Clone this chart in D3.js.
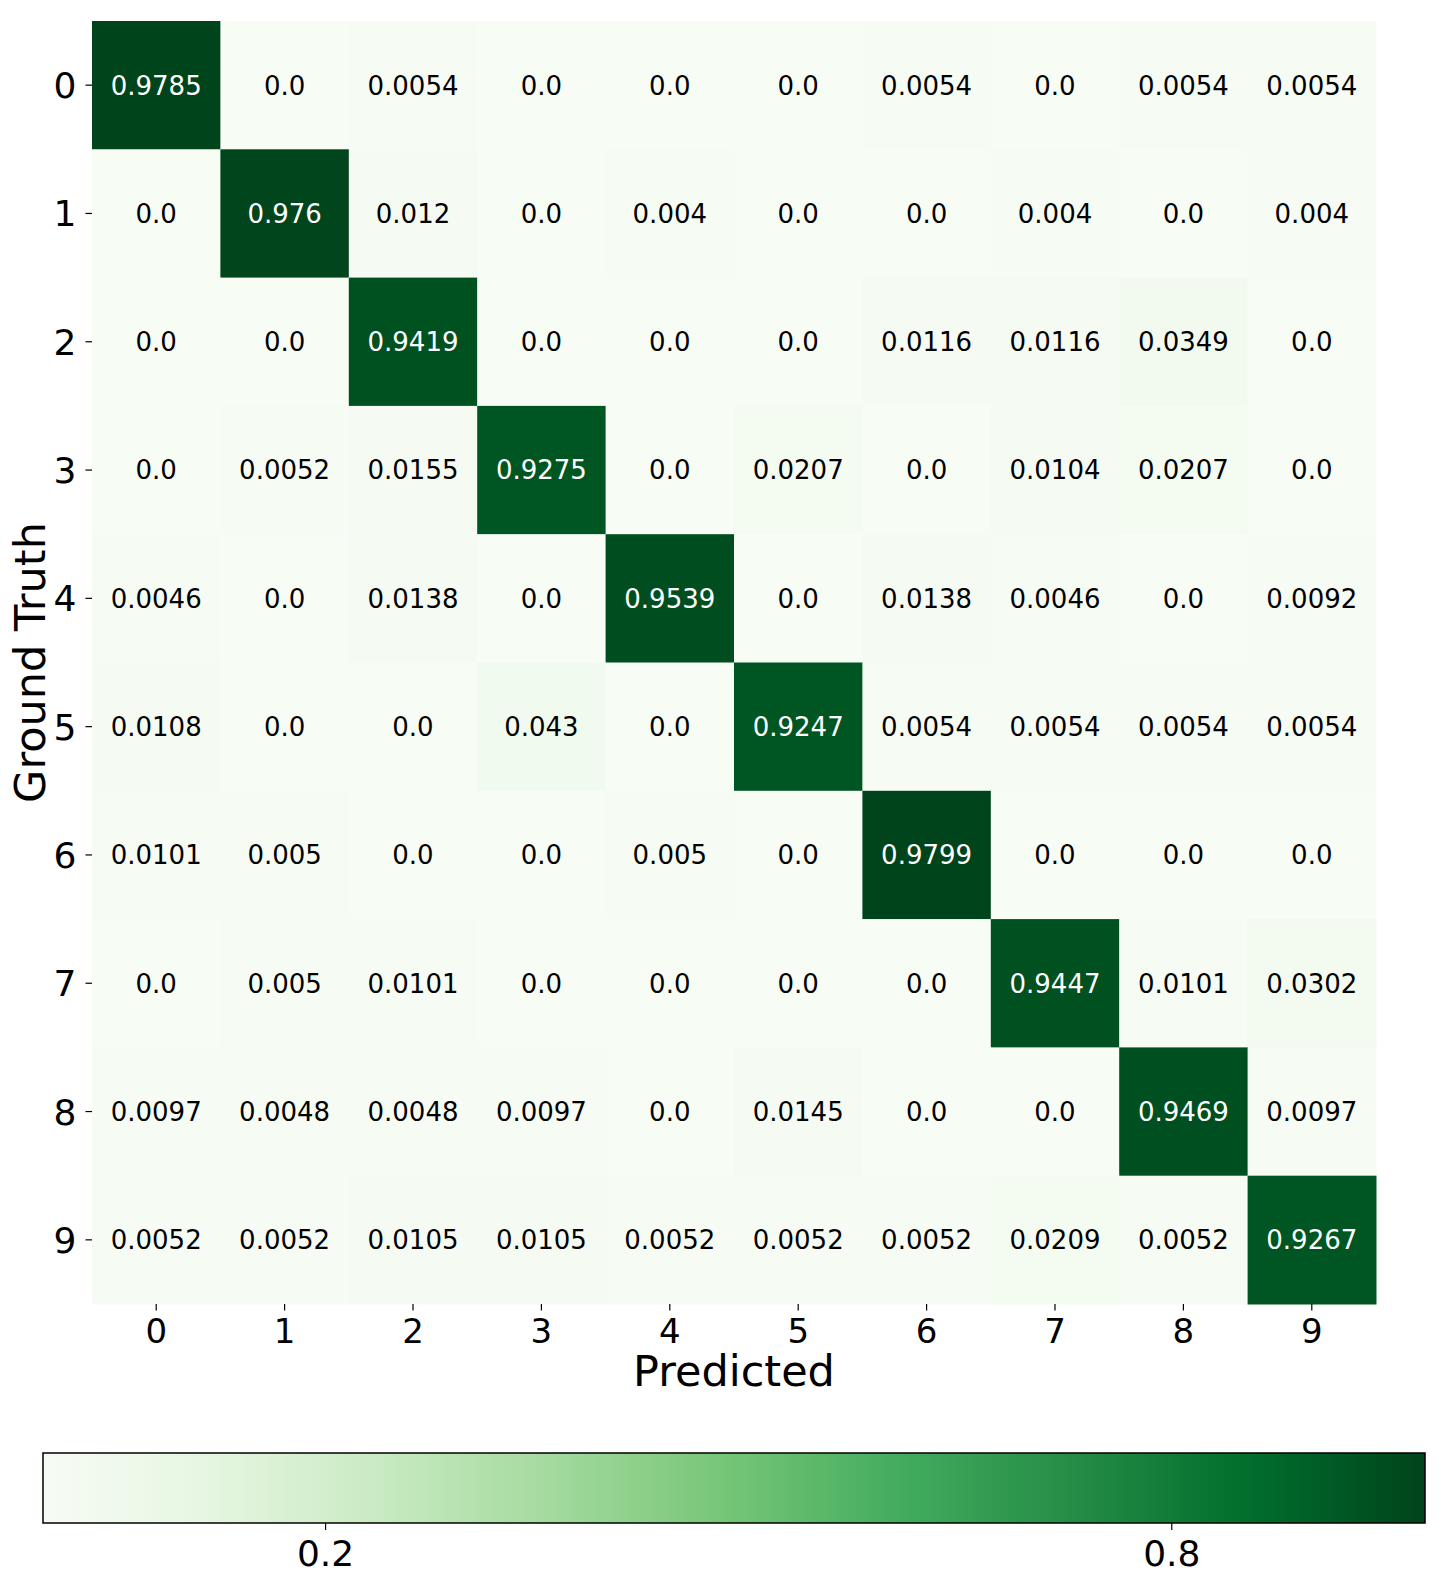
<!DOCTYPE html>
<html>
<head>
<meta charset="utf-8">
<script src="https://cdn.jsdelivr.net/npm/d3@7"></script>
<style>
  body { margin: 0; background: #fff; }
  text { font-family: "DejaVu Sans", sans-serif; }
</style>
</head>
<body>
<div id="vis"></div>
<script>
// confusion matrix, rows = ground truth, cols = predicted
const CLASSES = ["0", "1", "2", "3", "4", "5", "6", "7", "8", "9"];

const gt0 = [0.9785, 0.0, 0.0054, 0.0, 0.0, 0.0, 0.0054, 0.0, 0.0054, 0.0054];
const gt1 = [0.0, 0.976, 0.012, 0.0, 0.004, 0.0, 0.0, 0.004, 0.0, 0.004];
const gt2 = [0.0, 0.0, 0.9419, 0.0, 0.0, 0.0, 0.0116, 0.0116, 0.0349, 0.0];
const gt3 = [0.0, 0.0052, 0.0155, 0.9275, 0.0, 0.0207, 0.0, 0.0104, 0.0207, 0.0];
const gt4 = [0.0046, 0.0, 0.0138, 0.0, 0.9539, 0.0, 0.0138, 0.0046, 0.0, 0.0092];
const gt5 = [0.0108, 0.0, 0.0, 0.043, 0.0, 0.9247, 0.0054, 0.0054, 0.0054, 0.0054];
const gt6 = [0.0101, 0.005, 0.0, 0.0, 0.005, 0.0, 0.9799, 0.0, 0.0, 0.0];
const gt7 = [0.0, 0.005, 0.0101, 0.0, 0.0, 0.0, 0.0, 0.9447, 0.0101, 0.0302];
const gt8 = [0.0097, 0.0048, 0.0048, 0.0097, 0.0, 0.0145, 0.0, 0.0, 0.9469, 0.0097];
const gt9 = [0.0052, 0.0052, 0.0105, 0.0105, 0.0052, 0.0052, 0.0052, 0.0209, 0.0052, 0.9267];

const CBAR_TICKS = [0.2, 0.8];

const FRAME_WIDTH = 1446;
const FRAME_HEIGHT = 1590;
const PLOT = {left: 92, top: 21, right: 1376, bottom: 1304};
const CBAR = {left: 43, right: 1425, top: 1453, bottom: 1523};

const rows = [gt0, gt1, gt2, gt3, gt4, gt5, gt6, gt7, gt8, gt9];
const cells = [];
rows.forEach((r, i) => r.forEach((v, j) => cells.push({row: CLASSES[i], col: CLASSES[j], value: v})));

const VMAX = d3.max(cells, d => d.value);
const VMIN = 0;

// matplotlib "Greens" = linear through the 9 colorbrewer colours
const greens = d3.schemeGreens[9];
const COLOR = d3.scaleLinear()
    .domain(greens.map((c, i) => VMIN + (VMAX - VMIN) * i / 8))
    .range(greens)
    .interpolate(d3.interpolateRgb);

const svg = d3.select("#vis").append("svg")
    .attr("width", FRAME_WIDTH)
    .attr("height", FRAME_HEIGHT);

const X_SCALE = d3.scaleBand().domain(CLASSES).range([PLOT.left, PLOT.right]);
const Y_SCALE = d3.scaleBand().domain(CLASSES).range([PLOT.top, PLOT.bottom]);

// cells
svg.append("g").selectAll("rect")
    .data(cells)
    .enter()
    .append("rect")
      .attr("x", d => X_SCALE(d.col))
      .attr("y", d => Y_SCALE(d.row))
      .attr("width", X_SCALE.bandwidth() + 0.5)
      .attr("height", Y_SCALE.bandwidth() + 0.5)
      .attr("fill", d => COLOR(d.value));

// annotations - white on dark cells (seaborn style luminance check)
function lum(c) {
  const rgb = d3.rgb(c);
  const f = v => { v /= 255; return v <= 0.03928 ? v / 12.92 : Math.pow((v + 0.055) / 1.055, 2.4); };
  return 0.2126 * f(rgb.r) + 0.7152 * f(rgb.g) + 0.0722 * f(rgb.b);
}

svg.append("g").selectAll("text")
    .data(cells)
    .enter()
    .append("text")
      .attr("x", d => X_SCALE(d.col) + X_SCALE.bandwidth() / 2)
      .attr("y", d => Y_SCALE(d.row) + Y_SCALE.bandwidth() / 2)
      .attr("dy", "0.36em")
      .attr("text-anchor", "middle")
      .attr("font-size", "26px")
      .attr("fill", d => lum(COLOR(d.value)) > 0.408 ? "#000" : "#fff")
      .text(d => Number.isInteger(d.value) ? d.value.toFixed(1) : String(d.value));

// axes
const xAxis = svg.append("g")
    .attr("transform", "translate(0," + PLOT.bottom + ")")
    .call(d3.axisBottom(X_SCALE).tickSize(6.5).tickPadding(8));
const yAxis = svg.append("g")
    .attr("transform", "translate(" + PLOT.left + ",0)")
    .call(d3.axisLeft(Y_SCALE).tickSize(6.5).tickPadding(9));

[xAxis, yAxis].forEach(a => {
  a.select(".domain").remove();
  a.selectAll(".tick line").attr("stroke", "#000").attr("stroke-width", 1.2);
  a.selectAll(".tick text")
    .attr("font-family", "DejaVu Sans, sans-serif")
    .attr("fill", "#000");
});
xAxis.selectAll(".tick text").attr("font-size", "34px");
yAxis.selectAll(".tick text").attr("font-size", "36px").attr("dy", "0.36em");

svg.append("text")
    .attr("x", (PLOT.left + PLOT.right) / 2)
    .attr("y", 1386)
    .attr("text-anchor", "middle")
    .attr("font-size", "43px")
    .text("Predicted");

svg.append("text")
    .attr("transform", "translate(45," + (PLOT.top + PLOT.bottom) / 2 + ") rotate(-90)")
    .attr("text-anchor", "middle")
    .attr("font-size", "43px")
    .text("Ground Truth");

// colorbar
const CB_SCALE = d3.scaleLinear().domain([VMIN, VMAX]).range([CBAR.left, CBAR.right]);

const grad = svg.append("defs").append("linearGradient")
    .attr("id", "cbgrad")
    .attr("x1", "0%").attr("x2", "100%").attr("y1", "0%").attr("y2", "0%");
grad.selectAll("stop")
    .data(d3.range(0, 1.0001, 1 / 64))
    .enter()
    .append("stop")
      .attr("offset", d => (d * 100) + "%")
      .attr("stop-color", d => COLOR(VMIN + d * (VMAX - VMIN)));

svg.append("rect")
    .attr("x", CBAR.left)
    .attr("y", CBAR.top)
    .attr("width", CBAR.right - CBAR.left)
    .attr("height", CBAR.bottom - CBAR.top)
    .attr("fill", "url(#cbgrad)")
    .attr("stroke", "#000")
    .attr("stroke-width", 1.5);

const cbAxis = svg.append("g")
    .attr("transform", "translate(0," + CBAR.bottom + ")")
    .call(d3.axisBottom(CB_SCALE).tickValues(CBAR_TICKS).tickSize(7).tickPadding(10).tickFormat(d3.format(".1f")));
cbAxis.select(".domain").remove();
cbAxis.selectAll(".tick line").attr("stroke", "#000").attr("stroke-width", 1.2);
cbAxis.selectAll(".tick text")
    .attr("font-family", "DejaVu Sans, sans-serif")
    .attr("font-size", "36px")
    .attr("fill", "#000");
</script>
</body>
</html>
